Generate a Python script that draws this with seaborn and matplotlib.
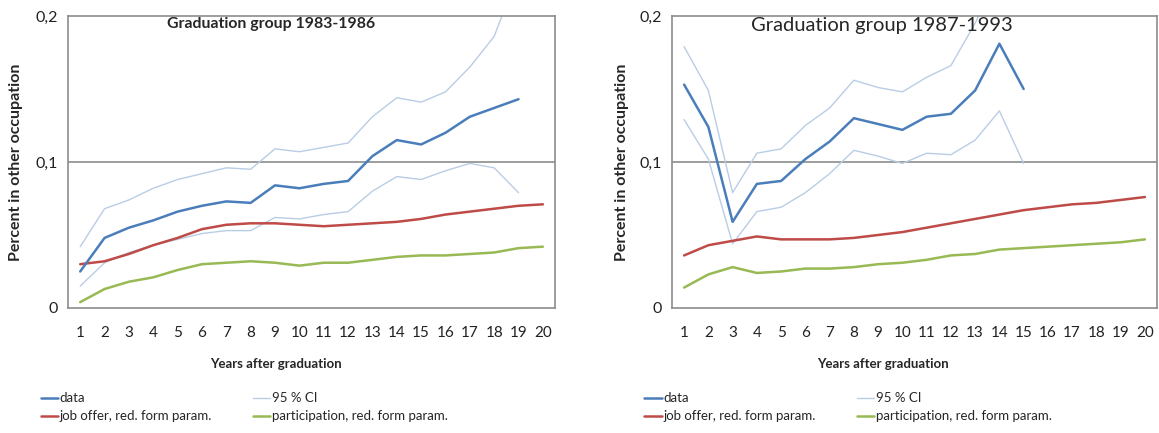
import numpy as np
import pandas as pd
import matplotlib
matplotlib.use('Agg')
import matplotlib.pyplot as plt
import seaborn as sns

# Data
years = list(range(1, 21))
nan = np.nan

# Graduation group 1983-1986
data_a = [0.025, 0.048, 0.055, 0.060, 0.066, 0.070, 0.073, 0.072, 0.084, 0.082,
          0.085, 0.087, 0.104, 0.115, 0.112, 0.120, 0.131, 0.137, 0.143, nan]
ci_hi_a = [0.042, 0.068, 0.074, 0.082, 0.088, 0.092, 0.096, 0.095, 0.109, 0.107,
           0.110, 0.113, 0.131, 0.144, 0.141, 0.148, 0.165, 0.186, 0.230, nan]
ci_lo_a = [0.015, 0.031, 0.038, 0.043, 0.047, 0.051, 0.053, 0.053, 0.062, 0.061,
           0.064, 0.066, 0.080, 0.090, 0.088, 0.094, 0.099, 0.096, 0.079, nan]
job_a = [0.030, 0.032, 0.037, 0.043, 0.048, 0.054, 0.057, 0.058, 0.058, 0.057,
         0.056, 0.057, 0.058, 0.059, 0.061, 0.064, 0.066, 0.068, 0.070, 0.071]
part_a = [0.004, 0.013, 0.018, 0.021, 0.026, 0.030, 0.031, 0.032, 0.031, 0.029,
          0.031, 0.031, 0.033, 0.035, 0.036, 0.036, 0.037, 0.038, 0.041, 0.042]

# Graduation group 1987-1993
data_b = [0.153, 0.124, 0.059, 0.085, 0.087, 0.102, 0.114, 0.130, 0.126, 0.122,
          0.131, 0.133, 0.149, 0.181, 0.150, nan, nan, nan, nan, nan]
ci_hi_b = [0.179, 0.149, 0.079, 0.106, 0.109, 0.125, 0.137, 0.156, 0.151, 0.148,
           0.158, 0.166, 0.195, 0.230, 0.215, nan, nan, nan, nan, nan]
ci_lo_b = [0.129, 0.102, 0.044, 0.066, 0.069, 0.079, 0.092, 0.108, 0.104, 0.099,
           0.106, 0.105, 0.115, 0.135, 0.099, nan, nan, nan, nan, nan]
job_b = [0.036, 0.043, 0.046, 0.049, 0.047, 0.047, 0.047, 0.048, 0.050, 0.052,
         0.055, 0.058, 0.061, 0.064, 0.067, 0.069, 0.071, 0.072, 0.074, 0.076]
part_b = [0.014, 0.023, 0.028, 0.024, 0.025, 0.027, 0.027, 0.028, 0.030, 0.031,
          0.033, 0.036, 0.037, 0.040, 0.041, 0.042, 0.043, 0.044, 0.045, 0.047]

titles = ['Graduation group 1983-1986', 'Graduation group 1987-1993']
ytick_vals = [0, 0.1, 0.2]
ytick_labels = ['0', '0,1', '0,2']

C_DATA = '#4A7EBB'
C_CI = '#B9CDE5'
C_JOB = '#BE4B48'
C_PART = '#98B954'
C_GRID = '#8C8C8C'

sns.set_style('white')
plt.rcParams['font.family'] = ['Lato', 'DejaVu Sans']

fig = plt.figure(figsize=(11.59, 4.33), dpi=100)
ax_a = fig.add_axes([0.0587, 0.2887, 0.4202, 0.6744])
ax_b = fig.add_axes([0.5798, 0.2887, 0.4185, 0.6744])


def draw_panel(ax, data, hi, lo, job, part):
    df = pd.DataFrame({'year': years, 'data': data, 'hi': hi, 'lo': lo,
                       'job': job, 'part': part})
    sns.lineplot(data=df, x='year', y='hi', ax=ax, color=C_CI, lw=1.0, label='95 % CI')
    sns.lineplot(data=df, x='year', y='lo', ax=ax, color=C_CI, lw=1.0, label='_nolegend_')
    sns.lineplot(data=df, x='year', y='job', ax=ax, color=C_JOB, lw=1.8,
                 label='job offer, red. form param.')
    sns.lineplot(data=df, x='year', y='part', ax=ax, color=C_PART, lw=1.8,
                 label='participation, red. form param.')
    sns.lineplot(data=df, x='year', y='data', ax=ax, color=C_DATA, lw=1.8, label='data')

    ax.set_xlim(0.5, 20.5)
    ax.set_ylim(0, 0.2)
    ax.set_xticks(years)
    ax.set_xticklabels([str(y) for y in years], fontsize=11, color='#222222')
    ax.set_xticks(np.arange(0.5, 21, 1), minor=True)
    ax.tick_params(axis='x', which='major', length=0, pad=13)
    ax.tick_params(axis='x', which='minor', length=5, width=1, color=C_GRID, direction='out')
    ax.set_yticks(ytick_vals)
    ax.set_yticklabels(ytick_labels, fontsize=11.5, color='#222222')
    ax.tick_params(axis='y', length=4, width=1, color=C_GRID, direction='out', pad=3)
    ax.axhline(0.1, color=C_GRID, lw=1.2, zorder=0)
    for s in ax.spines.values():
        s.set_visible(True)
        s.set_color(C_GRID)
        s.set_linewidth(1.2)
    ax.set_xlabel('Years after graduation', fontsize=9.5, fontweight='bold')
    ax.set_ylabel('Percent in other occupation', fontsize=11.5, fontweight='bold')
    h, l = ax.get_legend_handles_labels()
    ax.get_legend().remove()
    return dict(zip(l, h))


hd_a = draw_panel(ax_a, data_a, ci_hi_a, ci_lo_a, job_a, part_a)
hd_b = draw_panel(ax_b, data_b, ci_hi_b, ci_lo_b, job_b, part_b)

ax_a.text(0.417, 0.972, titles[0], transform=ax_a.transAxes, ha='center', va='center',
          fontsize=11.4, fontweight='bold')
ax_b.text(0.433, 0.968, titles[1], transform=ax_b.transAxes, ha='center', va='center',
          fontsize=14.5)

ax_a.xaxis.set_label_coords(0.427, -0.17)
ax_b.xaxis.set_label_coords(0.435, -0.17)
ax_a.yaxis.set_label_coords(-0.092, 0.5)
ax_b.yaxis.set_label_coords(-0.089, 0.5)

order = ['data', 'job offer, red. form param.', '95 % CI', 'participation, red. form param.']
for hd, x0 in [(hd_a, 0.035), (hd_b, 0.556)]:
    fig.legend([hd[k] for k in order], order, ncol=2, loc='upper left',
               bbox_to_anchor=(x0, 0.094), frameon=False, fontsize=9.5,
               handlelength=1.3, handletextpad=0.15, columnspacing=3.1,
               labelspacing=0.45, borderaxespad=0, borderpad=0)

fig.savefig('out.png', dpi=100)
